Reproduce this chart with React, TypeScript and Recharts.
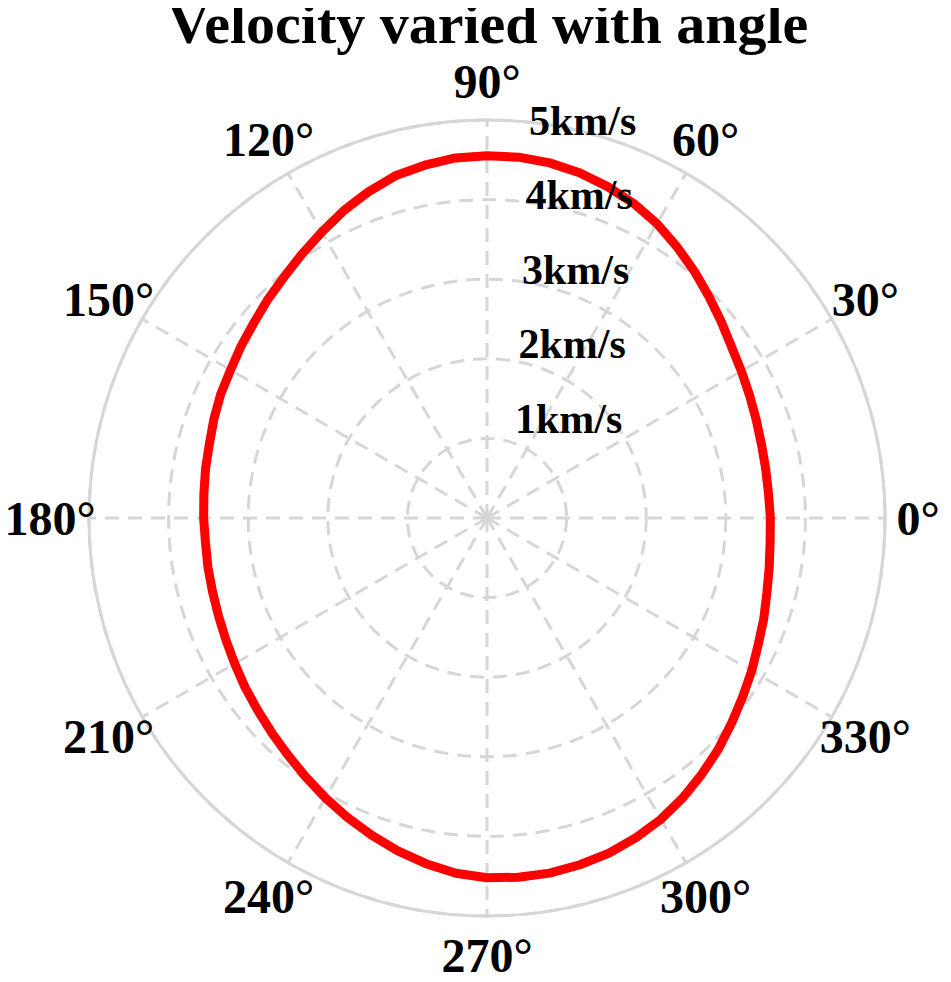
import React from 'react';
import { RadarChart, Radar, PolarGrid, PolarAngleAxis, PolarRadiusAxis } from 'recharts';

// angle in degrees, velocity in km/s (every 5 degrees)
const angles = [
  0, 5, 10, 15, 20, 25, 30, 35, 40, 45, 50, 55, 60, 65, 70, 75, 80, 85,
  90, 95, 100, 105, 110, 115, 120, 125, 130, 135, 140, 145, 150, 155, 160, 165, 170, 175,
  180, 185, 190, 195, 200, 205, 210, 215, 220, 225, 230, 235, 240, 245, 250, 255, 260, 265,
  270, 275, 280, 285, 290, 295, 300, 305, 310, 315, 320, 325, 330, 335, 340, 345, 350, 355,
];
const velocity = [
  3.55, 3.555, 3.57, 3.6, 3.64, 3.69, 3.75, 3.84, 3.94, 4.05, 4.16, 4.27, 4.36, 4.43, 4.49, 4.53, 4.55, 4.55,
  4.54, 4.5, 4.45, 4.36, 4.26, 4.15, 4.05, 3.96, 3.89, 3.82, 3.77, 3.72, 3.69, 3.65, 3.61, 3.59, 3.57, 3.56,
  3.55, 3.56, 3.57, 3.59, 3.62, 3.66, 3.71, 3.76, 3.82, 3.89, 3.97, 4.06, 4.15, 4.24, 4.33, 4.41, 4.48, 4.52,
  4.53, 4.53, 4.51, 4.48, 4.43, 4.37, 4.29, 4.2, 4.11, 4.01, 3.92, 3.84, 3.76, 3.7, 3.64, 3.6, 3.57, 3.56,
];
const angleTicks = [0, 30, 60, 90, 120, 150, 180, 210, 240, 270, 300, 330];
const radiusTicks = [0, 1, 2, 3, 4, 5];

const data = angles.map((a, i) => ({ angle: a, v: velocity[i] }));

const W = 951;
const H = 974;
const CX = 487;
const CY = 518;
const OUTER = 398;
const LABEL_R = 437;
const FONT = '"Liberation Serif", "Times New Roman", serif';

const AngleTick = (props: any) => {
  const deg = Number(props.payload.value);
  if (deg % 30 !== 0) return <g />;
  const a = (deg * Math.PI) / 180;
  // keep the 0° label inside the visible page area
  const x = Math.min(CX + LABEL_R * Math.cos(a), 918);
  return (
    <text
      x={x}
      y={CY - LABEL_R * Math.sin(a)}
      textAnchor="middle"
      dominantBaseline="central"
      fontFamily={FONT}
      fontWeight="bold"
      fontSize={48}
      fill="#000"
    >
      {deg}°
    </text>
  );
};

const RadiusTick = (props: any) => {
  const val = Number(props.payload.value);
  if (!val) return <g />;
  const r = (val / 5) * OUTER;
  return (
    <text
      x={CX + 24.5 + 0.044 * r}
      y={CY - 10.5 - 0.937 * r}
      textAnchor="start"
      fontFamily={FONT}
      fontWeight="bold"
      fontSize={42}
      fill="#000"
    >
      {val}km/s
    </text>
  );
};

export default function App() {
  return (
    <div style={{ position: 'relative', width: W, height: H, marginLeft: -8, marginTop: -8 }}>
      <RadarChart
        width={W}
        height={H}
        data={data}
        cx={CX}
        cy={CY}
        outerRadius={OUTER}
        startAngle={0}
        endAngle={360}
      >
        <PolarGrid
          gridType="circle"
          polarAngles={angleTicks}
          stroke="#d6d6d6"
          strokeWidth={3}
          strokeDasharray="14 9"
        />
        <PolarGrid gridType="circle" polarRadius={[OUTER]} radialLines={false} stroke="#d6d6d6" strokeWidth={3} />
        <PolarAngleAxis dataKey="angle" type="category" tick={AngleTick} tickLine={false} axisLine={false} />
        <PolarRadiusAxis
          angle={88}
          domain={[0, 5]}
          ticks={radiusTicks as any}
          tickCount={6}
          type="number"
          axisLine={false}
          tickLine={false}
          tick={RadiusTick}
        />
        <Radar
          dataKey="v"
          stroke="#ff0000"
          strokeWidth={9}
          fill="none"
          fillOpacity={0}
          strokeLinejoin="round"
          dot={false}
          isAnimationActive={false}
        />
      </RadarChart>
      <svg width={W} height={70} style={{ position: 'absolute', left: 0, top: 0, pointerEvents: 'none' }}>
        <text x={488} y={43} textAnchor="middle" fontFamily={FONT} fontWeight="bold" fontSize={58} fill="#000">
          Velocity varied with angle
        </text>
      </svg>
    </div>
  );
}
